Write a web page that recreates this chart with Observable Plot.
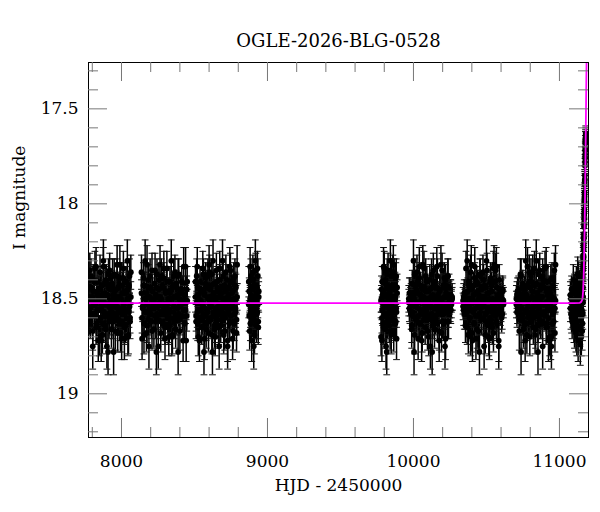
<!DOCTYPE html>
<html><head><meta charset="utf-8">
<script src="https://cdn.jsdelivr.net/npm/d3@7"></script>
<script src="https://cdn.jsdelivr.net/npm/@observablehq/plot@0.6"></script>
<style>body{margin:0;background:#fff;}</style>
</head><body><div id="chart"></div>
<script>
const title = "OGLE-2026-BLG-0528";
const xLabel = "HJD - 2450000";
const yLabel = "I magnitude";
const xMajor = [8000, 9000, 10000, 11000];
const xMinor = [7800, 8200, 8400, 8600, 8800, 9200, 9400, 9600, 9800, 10200, 10400, 10600, 10800];
const yMajor = [17.5, 18, 18.5, 19];
const yMinor = [17.3, 17.4, 17.6, 17.7, 17.8, 17.9, 18.1, 18.2, 18.3, 18.4, 18.6, 18.7, 18.8, 18.9, 19.1, 19.2];

// Season 1 (two exposures per night: a and b)
const s1Days = [7775,7779,7783,7787,7791,7795,7799,7803,7806,7810,7814,7818,7822,7826,7830,7834,7838,7841,7845,7849,7853,7857,7861,7865,7869,7873,7876,7880,7884,7888,7892,7896,7900,7904,7908,7911,7915,7919,7923,7927,7931,7935,7939,7943,7946,7950,7954,7958,7962,7966,7970,7974,7978,7981,7985,7989,7993,7997,8001,8005,8009,8013,8016,8020,8024,8028,8032,8036,8040,8044,8048,8051,8055,8059,8064];
const s1Mags = [18.49,18.61,18.44,18.55,18.38,18.58,18.50,18.67,18.46,18.53,18.41,18.59,18.52,18.33,18.63,18.48,18.56,18.72,18.45,18.51,18.36,18.60,18.54,18.43,18.69,18.50,18.30,18.57,18.47,18.64,18.53,18.40,18.75,18.49,18.58,18.44,18.62,18.35,18.55,18.51,18.66,18.42,18.59,18.48,18.78,18.37,18.54,18.61,18.45,18.52,18.32,18.68,18.50,18.57,18.43,18.63,18.39,18.55,18.71,18.47,18.58,18.34,18.53,18.65,18.46,18.56,18.41,18.60,18.50,18.70,18.44,18.57,18.38,18.62,18.49];
const s1Errs = [.07,.08,.07,.08,.09,.07,.06,.10,.07,.07,.08,.08,.06,.10,.09,.07,.07,.11,.07,.06,.09,.08,.07,.07,.10,.06,.11,.08,.07,.09,.07,.08,.12,.06,.08,.07,.09,.09,.07,.06,.10,.07,.08,.07,.12,.08,.07,.08,.07,.06,.10,.10,.07,.08,.07,.09,.08,.07,.11,.07,.08,.09,.07,.09,.07,.08,.08,.08,.07,.10,.07,.08,.09,.09,.08];
const s1bMags = [18.51,18.55,18.35,18.62,18.44,18.58,18.49,18.75,18.40,18.53,18.58,18.34,18.53,18.65,18.46,18.56,18.41,18.60,18.50,18.70,18.51,18.45,18.72,18.56,18.48,18.63,18.33,18.52,18.59,18.41,18.66,18.42,18.59,18.48,18.78,18.37,18.54,18.61,18.45,18.52,18.44,18.57,18.38,18.62,18.49,18.53,18.46,18.67,18.50,18.58,18.38,18.55,18.44,18.61,18.49,18.32,18.68,18.50,18.57,18.43,18.63,18.39,18.55,18.71,18.47,18.64,18.47,18.57,18.30,18.50,18.69,18.43,18.54,18.60,18.36];
const s1bErrs = [.06,.07,.09,.09,.07,.08,.06,.12,.08,.07,.08,.09,.07,.09,.07,.08,.08,.08,.07,.10,.06,.07,.11,.07,.07,.09,.10,.06,.08,.08,.10,.07,.08,.07,.12,.08,.07,.08,.07,.06,.07,.08,.09,.09,.08,.07,.07,.10,.06,.07,.09,.08,.07,.08,.07,.10,.10,.07,.08,.07,.09,.08,.07,.11,.07,.09,.07,.08,.11,.06,.10,.07,.07,.08,.09];

// Season 2
const s2Days = [8137,8141,8145,8150,8154,8158,8162,8167,8171,8175,8179,8184,8188,8192,8196,8201,8205,8209,8213,8218,8222,8226,8230,8235,8239,8243,8247,8252,8256,8260,8264,8269,8273,8277,8281,8286,8290,8294,8298,8303,8307,8311,8315,8320,8324,8328,8332,8337,8341,8345,8349,8354,8358,8362,8366,8371,8375,8379,8383,8388,8392,8396,8400,8405,8409,8413,8417,8422,8426,8430,8434,8439,8443,8447,8450];
const s2Mags = [18.36,18.60,18.54,18.43,18.69,18.50,18.30,18.57,18.47,18.64,18.53,18.40,18.75,18.49,18.58,18.44,18.62,18.35,18.55,18.51,18.66,18.42,18.59,18.48,18.78,18.37,18.54,18.61,18.45,18.52,18.32,18.68,18.50,18.57,18.43,18.63,18.39,18.55,18.71,18.47,18.58,18.34,18.53,18.65,18.46,18.56,18.41,18.60,18.50,18.70,18.44,18.57,18.38,18.62,18.49,18.49,18.61,18.44,18.55,18.38,18.58,18.50,18.67,18.46,18.53,18.41,18.59,18.52,18.33,18.63,18.48,18.56,18.72,18.45,18.51];
const s2Errs = [.09,.08,.07,.07,.10,.06,.11,.08,.07,.09,.07,.08,.12,.06,.08,.07,.09,.09,.07,.06,.10,.07,.08,.07,.12,.08,.07,.08,.07,.06,.10,.10,.07,.08,.07,.09,.08,.07,.11,.07,.08,.09,.07,.09,.07,.08,.08,.08,.07,.10,.07,.08,.09,.09,.08,.07,.08,.07,.08,.09,.07,.06,.10,.07,.07,.08,.08,.06,.10,.09,.07,.07,.11,.07,.06];
const s2bMags = [18.47,18.71,18.55,18.39,18.63,18.43,18.57,18.50,18.68,18.32,18.49,18.61,18.44,18.55,18.38,18.58,18.50,18.67,18.46,18.53,18.51,18.55,18.35,18.62,18.44,18.58,18.49,18.75,18.40,18.53,18.49,18.62,18.38,18.57,18.44,18.58,18.34,18.53,18.65,18.46,18.56,18.41,18.60,18.50,18.70,18.64,18.47,18.57,18.30,18.50,18.69,18.43,18.54,18.60,18.36,18.66,18.42,18.59,18.48,18.78,18.37,18.54,18.61,18.45,18.52,18.51,18.45,18.72,18.56,18.48,18.63,18.33,18.52,18.59,18.41];
const s2bErrs = [.07,.11,.07,.08,.09,.07,.08,.07,.10,.10,.07,.08,.07,.08,.09,.07,.06,.10,.07,.07,.06,.07,.09,.09,.07,.08,.06,.12,.08,.07,.08,.09,.09,.08,.07,.08,.09,.07,.09,.07,.08,.08,.08,.07,.10,.09,.07,.08,.11,.06,.10,.07,.07,.08,.09,.10,.07,.08,.07,.12,.08,.07,.08,.07,.06,.06,.07,.11,.07,.07,.09,.10,.06,.08,.08];

// Season 3
const s3Days = [8507,8511,8515,8519,8522,8526,8530,8534,8538,8542,8546,8550,8553,8557,8561,8565,8569,8573,8576,8580,8584,8588,8592,8596,8600,8603,8607,8611,8615,8619,8623,8627,8630,8634,8638,8642,8646,8650,8653,8657,8661,8665,8669,8673,8677,8680,8684,8688,8692,8696,8700,8704,8707,8711,8715,8719,8723,8727,8730,8734,8738,8742,8746,8750,8754,8757,8761,8765,8769,8773,8777,8781,8784,8788,8792];
const s3Mags = [18.49,18.62,18.38,18.57,18.44,18.70,18.50,18.60,18.41,18.56,18.46,18.65,18.53,18.34,18.58,18.47,18.71,18.55,18.39,18.63,18.43,18.57,18.50,18.68,18.32,18.52,18.45,18.61,18.54,18.37,18.78,18.48,18.59,18.42,18.66,18.51,18.55,18.35,18.62,18.44,18.58,18.49,18.75,18.40,18.53,18.64,18.47,18.57,18.30,18.50,18.69,18.43,18.54,18.60,18.36,18.51,18.45,18.72,18.56,18.48,18.63,18.33,18.52,18.59,18.41,18.53,18.46,18.67,18.50,18.58,18.38,18.55,18.44,18.61,18.49];
const s3Errs = [.08,.09,.09,.08,.07,.10,.07,.08,.08,.08,.07,.09,.07,.09,.08,.07,.11,.07,.08,.09,.07,.08,.07,.10,.10,.06,.07,.08,.07,.08,.12,.07,.08,.07,.10,.06,.07,.09,.09,.07,.08,.06,.12,.08,.07,.09,.07,.08,.11,.06,.10,.07,.07,.08,.09,.06,.07,.11,.07,.07,.09,.10,.06,.08,.08,.07,.07,.10,.06,.07,.09,.08,.07,.08,.07];
const s3bMags = [18.41,18.59,18.52,18.33,18.63,18.48,18.56,18.72,18.45,18.51,18.52,18.45,18.61,18.54,18.37,18.78,18.48,18.59,18.42,18.66,18.44,18.57,18.38,18.62,18.49,18.36,18.60,18.54,18.43,18.69,18.50,18.30,18.57,18.47,18.64,18.70,18.50,18.60,18.41,18.56,18.46,18.65,18.53,18.34,18.58,18.49,18.61,18.44,18.55,18.38,18.58,18.50,18.67,18.46,18.53,18.53,18.40,18.75,18.49,18.58,18.44,18.62,18.35,18.55,18.51,18.47,18.71,18.55,18.39,18.63,18.43,18.57,18.50,18.68,18.32];
const s3bErrs = [.08,.08,.06,.10,.09,.07,.07,.11,.07,.06,.06,.07,.08,.07,.08,.12,.07,.08,.07,.10,.07,.08,.09,.09,.08,.09,.08,.07,.07,.10,.06,.11,.08,.07,.09,.10,.07,.08,.08,.08,.07,.09,.07,.09,.08,.07,.08,.07,.08,.09,.07,.06,.10,.07,.07,.07,.08,.12,.06,.08,.07,.09,.09,.07,.06,.07,.11,.07,.08,.09,.07,.08,.07,.10,.10];

// Season 4
const s4Days = [8872,8875,8878,8881,8883,8886,8889,8892,8895,8897,8900,8903,8906,8909,8911,8914,8917,8920,8923,8925,8928,8931,8934,8937,8940];
const s4Mags = [18.41,18.59,18.52,18.33,18.63,18.48,18.56,18.72,18.45,18.51,18.53,18.40,18.75,18.49,18.58,18.44,18.62,18.35,18.55,18.51,18.44,18.57,18.38,18.62,18.49];
const s4Errs = [.08,.08,.06,.10,.09,.07,.07,.11,.07,.06,.07,.08,.12,.06,.08,.07,.09,.09,.07,.06,.07,.08,.09,.09,.08];
const s4bMags = [18.53,18.46,18.67,18.50,18.58,18.38,18.55,18.44,18.61,18.49,18.36,18.60,18.54,18.43,18.69,18.50,18.30,18.57,18.47,18.64,18.58,18.34,18.53,18.65,18.46];
const s4bErrs = [.07,.07,.10,.06,.07,.09,.08,.07,.08,.07,.09,.08,.07,.07,.10,.06,.11,.08,.07,.09,.08,.09,.07,.09,.07];

// Season 5
const s5Days = [9778,9781,9784,9786,9789,9792,9795,9798,9800,9803,9806,9809,9812,9814,9817,9820,9823,9826,9828,9831,9834,9837,9840,9842,9845,9848,9851,9854,9856,9859,9862,9865,9868,9870,9873,9876,9879,9882,9884,9888];
const s5Mags = [18.70,18.50,18.60,18.41,18.56,18.46,18.65,18.53,18.34,18.58,18.66,18.42,18.59,18.48,18.78,18.37,18.54,18.61,18.45,18.52,18.64,18.47,18.57,18.30,18.50,18.69,18.43,18.54,18.60,18.36,18.32,18.68,18.50,18.57,18.43,18.63,18.39,18.55,18.71,18.47];
const s5Errs = [.10,.07,.08,.08,.08,.07,.09,.07,.09,.08,.10,.07,.08,.07,.12,.08,.07,.08,.07,.06,.09,.07,.08,.11,.06,.10,.07,.07,.08,.09,.10,.10,.07,.08,.07,.09,.08,.07,.11,.07];
const s5bMags = [18.51,18.45,18.72,18.56,18.48,18.63,18.33,18.52,18.59,18.41,18.53,18.40,18.75,18.49,18.58,18.44,18.62,18.35,18.55,18.51,18.53,18.46,18.67,18.50,18.58,18.38,18.55,18.44,18.61,18.49,18.44,18.57,18.38,18.62,18.49,18.49,18.62,18.38,18.57,18.44];
const s5bErrs = [.06,.07,.11,.07,.07,.09,.10,.06,.08,.08,.07,.08,.12,.06,.08,.07,.09,.09,.07,.06,.07,.07,.10,.06,.07,.09,.08,.07,.08,.07,.07,.08,.09,.09,.08,.08,.09,.09,.08,.07];

// Season 6
const s6Days = [9968,9972,9976,9980,9984,9988,9992,9996,10000,10004,10008,10012,10016,10020,10024,10028,10032,10036,10040,10044,10048,10052,10056,10060,10064,10068,10072,10076,10080,10084,10088,10092,10096,10100,10104,10108,10112,10116,10120,10124,10128,10132,10136,10140,10144,10148,10152,10156,10160,10164,10168,10172,10176,10180,10184,10188,10192,10196,10200,10204,10208,10212,10216,10220,10224,10228,10232,10236,10240,10244,10248,10252,10256,10260,10265];
const s6Mags = [18.52,18.47,18.56,18.50,18.58,18.66,18.42,18.59,18.48,18.78,18.37,18.54,18.61,18.45,18.52,18.41,18.59,18.52,18.33,18.63,18.48,18.56,18.72,18.45,18.51,18.58,18.34,18.53,18.65,18.46,18.56,18.41,18.60,18.50,18.70,18.53,18.40,18.75,18.49,18.58,18.44,18.62,18.35,18.55,18.51,18.49,18.61,18.44,18.55,18.38,18.58,18.50,18.67,18.46,18.53,18.32,18.68,18.50,18.57,18.43,18.63,18.39,18.55,18.71,18.47,18.44,18.57,18.38,18.62,18.49,18.51,18.55,18.48,18.53,18.50];
const s6Errs = [.07,.08,.07,.06,.08,.10,.07,.08,.07,.12,.08,.07,.08,.07,.06,.08,.08,.06,.10,.09,.07,.07,.11,.07,.06,.08,.09,.07,.09,.07,.08,.08,.08,.07,.10,.07,.08,.12,.06,.08,.07,.09,.09,.07,.06,.07,.08,.07,.08,.09,.07,.06,.10,.07,.07,.10,.10,.07,.08,.07,.09,.08,.07,.11,.07,.07,.08,.09,.09,.08,.07,.07,.08,.07,.06];
const s6bMags = [18.50,18.55,18.47,18.53,18.49,18.64,18.47,18.57,18.30,18.50,18.69,18.43,18.54,18.60,18.36,18.47,18.71,18.55,18.39,18.63,18.43,18.57,18.50,18.68,18.32,18.49,18.61,18.44,18.55,18.38,18.58,18.50,18.67,18.46,18.53,18.52,18.45,18.61,18.54,18.37,18.78,18.48,18.59,18.42,18.66,18.41,18.59,18.52,18.33,18.63,18.48,18.56,18.72,18.45,18.51,18.51,18.55,18.35,18.62,18.44,18.58,18.49,18.75,18.40,18.53,18.49,18.62,18.38,18.57,18.44,18.53,18.48,18.56,18.51,18.49];
const s6bErrs = [.07,.07,.08,.06,.07,.09,.07,.08,.11,.06,.10,.07,.07,.08,.09,.07,.11,.07,.08,.09,.07,.08,.07,.10,.10,.07,.08,.07,.08,.09,.07,.06,.10,.07,.07,.06,.07,.08,.07,.08,.12,.07,.08,.07,.10,.08,.08,.06,.10,.09,.07,.07,.11,.07,.06,.06,.07,.09,.09,.07,.08,.06,.12,.08,.07,.08,.09,.09,.08,.07,.07,.08,.07,.06,.07];

// Season 7
const s7Days = [10340,10344,10348,10352,10356,10360,10364,10368,10372,10376,10380,10384,10388,10392,10396,10400,10404,10408,10412,10416,10420,10424,10428,10432,10436,10440,10444,10448,10452,10456,10460,10464,10468,10472,10476,10480,10484,10488,10492,10496,10500,10504,10508,10512,10516,10520,10524,10528,10532,10536,10540,10544,10548,10552,10556,10560,10564,10568,10572,10576,10580,10584,10588,10592,10596,10600,10604,10608,10612,10616];
const s7Mags = [18.54,18.49,18.58,18.51,18.64,18.47,18.57,18.30,18.50,18.69,18.43,18.54,18.60,18.36,18.32,18.68,18.50,18.57,18.43,18.63,18.39,18.55,18.71,18.47,18.53,18.46,18.67,18.50,18.58,18.38,18.55,18.44,18.61,18.49,18.53,18.40,18.75,18.49,18.58,18.44,18.62,18.35,18.55,18.51,18.70,18.50,18.60,18.41,18.56,18.46,18.65,18.53,18.34,18.58,18.41,18.59,18.52,18.33,18.63,18.48,18.56,18.72,18.45,18.51,18.56,18.47,18.60,18.50,18.45,18.53];
const s7Errs = [.07,.07,.08,.06,.09,.07,.08,.11,.06,.10,.07,.07,.08,.09,.10,.10,.07,.08,.07,.09,.08,.07,.11,.07,.07,.07,.10,.06,.07,.09,.08,.07,.08,.07,.07,.08,.12,.06,.08,.07,.09,.09,.07,.06,.10,.07,.08,.08,.08,.07,.09,.07,.09,.08,.08,.08,.06,.10,.09,.07,.07,.11,.07,.06,.08,.07,.08,.07,.07,.07];
const s7bMags = [18.51,18.56,18.47,18.53,18.58,18.34,18.53,18.65,18.46,18.56,18.41,18.60,18.50,18.70,18.51,18.45,18.72,18.56,18.48,18.63,18.33,18.52,18.59,18.41,18.66,18.42,18.59,18.48,18.78,18.37,18.54,18.61,18.45,18.52,18.36,18.60,18.54,18.43,18.69,18.50,18.30,18.57,18.47,18.64,18.47,18.71,18.55,18.39,18.63,18.43,18.57,18.50,18.68,18.32,18.51,18.55,18.35,18.62,18.44,18.58,18.49,18.75,18.40,18.53,18.49,18.55,18.52,18.58,18.46,18.51];
const s7bErrs = [.07,.08,.07,.06,.08,.09,.07,.09,.07,.08,.08,.08,.07,.10,.06,.07,.11,.07,.07,.09,.10,.06,.08,.08,.10,.07,.08,.07,.12,.08,.07,.08,.07,.06,.09,.08,.07,.07,.10,.06,.11,.08,.07,.09,.07,.11,.07,.08,.09,.07,.08,.07,.10,.10,.06,.07,.09,.09,.07,.08,.06,.12,.08,.07,.07,.07,.07,.08,.07,.07];

// Season 8
const s8Days = [10705,10709,10713,10717,10721,10725,10729,10733,10737,10741,10745,10749,10753,10757,10761,10765,10769,10773,10777,10781,10785,10789,10793,10797,10801,10805,10809,10813,10817,10821,10825,10829,10833,10837,10841,10845,10849,10853,10857,10861,10865,10869,10873,10877,10881,10885,10889,10893,10897,10901,10905,10909,10913,10917,10921,10925,10929,10933,10937,10941,10945,10949,10953,10957,10961,10965,10969,10973];
const s8Mags = [18.50,18.57,18.46,18.52,18.45,18.61,18.54,18.37,18.78,18.48,18.59,18.42,18.66,18.51,18.45,18.72,18.56,18.48,18.63,18.33,18.52,18.59,18.41,18.44,18.57,18.38,18.62,18.49,18.36,18.60,18.54,18.43,18.69,18.50,18.30,18.57,18.47,18.64,18.51,18.55,18.35,18.62,18.44,18.58,18.49,18.75,18.40,18.53,18.58,18.34,18.53,18.65,18.46,18.56,18.41,18.60,18.50,18.70,18.47,18.71,18.55,18.39,18.63,18.43,18.57,18.50,18.68,18.32];
const s8Errs = [.07,.08,.07,.06,.07,.08,.07,.08,.12,.07,.08,.07,.10,.06,.07,.11,.07,.07,.09,.10,.06,.08,.08,.07,.08,.09,.09,.08,.09,.08,.07,.07,.10,.06,.11,.08,.07,.09,.06,.07,.09,.09,.07,.08,.06,.12,.08,.07,.08,.09,.07,.09,.07,.08,.08,.08,.07,.10,.07,.11,.07,.08,.09,.07,.08,.07,.10,.10];
const s8bMags = [18.53,18.48,18.55,18.53,18.46,18.67,18.50,18.58,18.38,18.55,18.44,18.61,18.49,18.64,18.47,18.57,18.30,18.50,18.69,18.43,18.54,18.60,18.36,18.70,18.50,18.60,18.41,18.56,18.46,18.65,18.53,18.34,18.58,18.66,18.42,18.59,18.48,18.78,18.37,18.54,18.61,18.45,18.52,18.49,18.62,18.38,18.57,18.44,18.41,18.59,18.52,18.33,18.63,18.48,18.56,18.72,18.45,18.51,18.53,18.40,18.75,18.49,18.58,18.44,18.62,18.35,18.55,18.51];
const s8bErrs = [.07,.07,.08,.07,.07,.10,.06,.07,.09,.08,.07,.08,.07,.09,.07,.08,.11,.06,.10,.07,.07,.08,.09,.10,.07,.08,.08,.08,.07,.09,.07,.09,.08,.10,.07,.08,.07,.12,.08,.07,.08,.07,.06,.08,.09,.09,.08,.07,.08,.08,.06,.10,.09,.07,.07,.11,.07,.06,.07,.08,.12,.06,.08,.07,.09,.09,.07,.06];

// Season 9 (baseline, then the rise)
const s9Days = [11075,11079,11083,11087,11091,11095,11099,11103,11107,11110,11113,11116,11119,11122,11125,11128,11131,11134,11137,11140,11143,11146,11148,11150,11152,11154,11156,11158,11160,11162,11160,11162,11163,11164,11165,11166,11167,11168,11169,11170,11171,11172,11173,11174,11175,11176,11177,11178,11179,11180];
const s9Mags = [18.55,18.50,18.60,18.47,18.57,18.53,18.64,18.44,18.58,18.50,18.68,18.41,18.55,18.62,18.46,18.72,18.38,18.57,18.49,18.66,18.43,18.60,18.52,18.70,18.40,18.56,18.47,18.63,18.44,18.52,18.38,18.33,18.29,18.31,18.24,18.20,18.16,18.12,18.08,18.03,17.99,17.94,17.90,17.85,17.80,17.76,17.71,17.68,17.65,17.63];
const s9Errs = [.07,.07,.08,.07,.08,.07,.09,.07,.08,.07,.10,.08,.07,.09,.07,.11,.08,.08,.07,.09,.07,.08,.07,.10,.08,.07,.07,.09,.07,.07,.06,.06,.06,.06,.06,.05,.05,.05,.05,.05,.05,.05,.05,.05,.04,.04,.04,.04,.04,.04];
const s9bMags = [18.48,18.58,18.45,18.62,18.51,18.40,18.56,18.66,18.47,18.60,18.43,18.54,18.70,18.49,18.37,18.59,18.52,18.65,18.42,18.55,18.74,18.46,18.61,18.39,18.57,18.50,18.67,18.44,18.58,18.49,18.40,18.35,18.27,18.28,18.22,18.18,18.18,18.10,18.06,18.05,17.97,17.96,17.88,17.87,17.78,17.74,17.72,17.66,17.66,17.64];
const s9bErrs = [.07,.08,.07,.09,.07,.08,.07,.10,.07,.08,.07,.07,.10,.07,.09,.08,.07,.09,.07,.07,.11,.07,.08,.08,.08,.07,.10,.07,.08,.07,.06,.06,.06,.06,.06,.05,.05,.05,.05,.05,.05,.05,.05,.05,.04,.04,.04,.04,.04,.04];

// Microlensing model curve
const modelDays = [7774, 11100, 11140, 11150, 11158, 11162, 11166, 11169, 11172, 11175, 11178, 11181, 11184, 11187, 11190];
const modelMags = [18.523, 18.523, 18.521, 18.515, 18.50, 18.46, 18.38, 18.28, 18.15, 17.98, 17.78, 17.56, 17.36, 17.18, 16.98];

const seasons = [
  [s1Days, s1Mags, s1Errs], [s1Days, s1bMags, s1bErrs],
  [s2Days, s2Mags, s2Errs], [s2Days, s2bMags, s2bErrs],
  [s3Days, s3Mags, s3Errs], [s3Days, s3bMags, s3bErrs],
  [s4Days, s4Mags, s4Errs], [s4Days, s4bMags, s4bErrs],
  [s5Days, s5Mags, s5Errs], [s5Days, s5bMags, s5bErrs],
  [s6Days, s6Mags, s6Errs], [s6Days, s6bMags, s6bErrs],
  [s7Days, s7Mags, s7Errs], [s7Days, s7bMags, s7bErrs],
  [s8Days, s8Mags, s8Errs], [s8Days, s8bMags, s8bErrs],
  [s9Days, s9Mags, s9Errs], [s9Days, s9bMags, s9bErrs]
];
const obs = seasons.flatMap(([d, m, e]) => {
  const n = Math.min(d.length, m.length, e.length);
  return d.slice(0, n).map((t, i) => ({t, mag: m[i], err: e[i]}));
});
const model = modelDays.map((t, i) => ({t, mag: modelMags[i]}));

const capSymbol = {
  draw(ctx, size) {
    const w = Math.sqrt(size / Math.PI);
    ctx.moveTo(-w, 0);
    ctx.lineTo(w, 0);
  }
};

const W = 600, H = 512, mL = 88, mR = 12, mT = 62, mB = 75;
const iW = W - mL - mR, iH = H - mT - mB;
const majorLen = 19, minorLen = 10;
const tickColor = "#777";

const chart = Plot.plot({
  width: W, height: H,
  marginLeft: mL, marginRight: mR, marginTop: mT, marginBottom: mB,
  x: {domain: [7774, 11199]},
  y: {domain: [17.256, 19.23], reverse: true},
  style: {fontFamily: "'DejaVu Serif', serif", fontSize: "17px", color: "black", background: "white", overflow: "visible"},
  marks: [
    Plot.ruleX(obs, {x: "t", y1: d => d.mag - d.err, y2: d => d.mag + d.err, stroke: "#000", strokeWidth: 1.5, clip: true}),
    Plot.dot(obs, {x: "t", y: d => d.mag - d.err, symbol: capSymbol, r: 3.4, stroke: "#111", fill: "none", strokeWidth: 1, clip: true}),
    Plot.dot(obs, {x: "t", y: d => d.mag + d.err, symbol: capSymbol, r: 3.4, stroke: "#111", fill: "none", strokeWidth: 1, clip: true}),
    Plot.dot(obs, {x: "t", y: "mag", r: 2.9, fill: "black", clip: true}),
    Plot.line(model, {x: "t", y: "mag", stroke: "#ff00ff", strokeWidth: 1.8, clip: true}),
    Plot.frame({stroke: "black", strokeWidth: 1}),
    Plot.tickX(xMajor, {x: d => d, insetTop: iH - majorLen, stroke: tickColor}),
    Plot.tickX(xMajor, {x: d => d, insetBottom: iH - majorLen, stroke: tickColor}),
    Plot.tickX(xMinor, {x: d => d, insetTop: iH - minorLen, stroke: tickColor}),
    Plot.tickX(xMinor, {x: d => d, insetBottom: iH - minorLen, stroke: tickColor}),
    Plot.tickY(yMajor, {y: d => d, insetRight: iW - majorLen, stroke: tickColor}),
    Plot.tickY(yMajor, {y: d => d, insetLeft: iW - majorLen, stroke: tickColor}),
    Plot.tickY(yMinor, {y: d => d, insetRight: iW - minorLen, stroke: tickColor}),
    Plot.tickY(yMinor, {y: d => d, insetLeft: iW - minorLen, stroke: tickColor}),
    Plot.axisX(xMajor, {anchor: "bottom", tickSize: 0, tickPadding: 17, tickFormat: d => String(d), label: null, fontSize: 17}),
    Plot.axisY(yMajor, {anchor: "left", tickSize: 0, tickPadding: 10, tickFormat: d => String(d), label: null, fontSize: 17}),
    Plot.text([xLabel], {frameAnchor: "bottom", dy: 53, fontSize: 17, fill: "black"}),
    Plot.text([yLabel], {frameAnchor: "left", dx: -69, rotate: -90, fontSize: 17, fill: "black"}),
    Plot.text([title], {frameAnchor: "top", dy: -28, fontSize: 18, fill: "black"})
  ]
});
document.getElementById("chart").appendChild(chart);
</script>
</body></html>
